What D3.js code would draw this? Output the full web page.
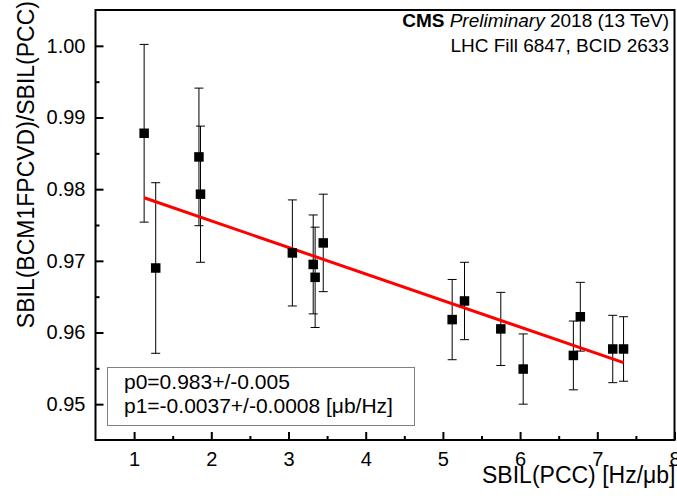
<!DOCTYPE html>
<html>
<head>
<meta charset="utf-8">
<script src="https://cdn.jsdelivr.net/npm/d3@7"></script>
<style>
  html, body { margin: 0; padding: 0; background: #fff; }
  svg { display: block; font-family: 'Liberation Sans', Arial, sans-serif; }
</style>
</head>
<body>
<svg id="chart" width="677" height="499"></svg>
<script>
/* SBIL ratio BCM1FPCVD / PCC vs SBIL(PCC), linear fit */
(function () {
  'use strict';

  // measured points: SBIL(PCC) [Hz/ub], ratio, ratio error
  const sbilPcc = [1.13, 1.28, 1.84, 1.86, 3.05, 3.32, 3.345, 3.45, 5.12, 5.28, 5.75, 6.04, 6.69, 6.78, 7.20, 7.34];
  const ratio   = [0.9878, 0.9690, 0.9845, 0.9793, 0.9711, 0.9695, 0.9677, 0.9725, 0.9618, 0.9644, 0.9605, 0.9549, 0.9568, 0.9622, 0.9577, 0.9577];
  const ratioErr = [0.0124, 0.0119, 0.0096, 0.0095, 0.0074, 0.0069, 0.0070, 0.0068, 0.0056, 0.0054, 0.0051, 0.0049, 0.0048, 0.0048, 0.0047, 0.0045];

  // fit line end points (p0 + p1*x over the data range)
  const fitX = [1.13, 7.34];
  const fitY = [0.9788, 0.9558];

  const xTicks = [1, 2, 3, 4, 5, 6, 7, 8];
  const xMinor = [1.5, 2.5, 3.5, 4.5, 5.5, 6.5, 7.5];
  const yTicks = [0.95, 0.96, 0.97, 0.98, 0.99, 1.00];
  const yMinor = [0.955, 0.965, 0.975, 0.985, 0.995];

  const headerLine2 = 'LHC Fill 6847, BCID 2633';
  const fitText = ['p0=0.983+/-0.005', 'p1=-0.0037+/-0.0008 [\u03bcb/Hz]'];

  const W = 677, H = 499;
  const margin = { top: 10, right: 2.5, bottom: 59, left: 95.5 };
  const svg = d3.select('#chart');

  const x = d3.scaleLinear().domain([0.5, 8]).range([margin.left, W - margin.right]);
  const y = d3.scaleLinear().domain([0.945, 1.005]).range([H - margin.bottom, margin.top]);

  const tickFont = '20px';

  // frame
  svg.append('rect')
    .attr('x', x(0.5)).attr('y', y(1.005))
    .attr('width', x(8) - x(0.5)).attr('height', y(0.945) - y(1.005))
    .attr('fill', 'none').attr('stroke', '#000').attr('stroke-width', 2);

  // bottom axis, ticks pointing inward
  svg.append('g').attr('transform', `translate(0,${y(0.945)})`)
    .call(d3.axisBottom(x).tickValues(xTicks).tickSize(-8).tickPadding(12).tickFormat(d3.format('d')));
  svg.append('g').attr('transform', `translate(0,${y(0.945)})`)
    .call(d3.axisBottom(x).tickValues(xMinor).tickSize(-4).tickFormat(''));

  svg.append('g').attr('transform', `translate(${x(0.5)},0)`)
    .call(d3.axisLeft(y).tickValues(yTicks).tickSize(-8).tickPadding(10).tickFormat(d3.format('.2f')));
  svg.append('g').attr('transform', `translate(${x(0.5)},0)`)
    .call(d3.axisLeft(y).tickValues(yMinor).tickSize(-4).tickFormat(''));

  svg.selectAll('.domain').remove();
  svg.selectAll('.tick line').attr('stroke', '#000').attr('stroke-width', 2);
  svg.selectAll('.tick text')
    .style('font-family', "'Liberation Sans', Arial, sans-serif")
    .style('font-size', tickFont).attr('fill', '#000');

  // axis titles
  svg.append('text')
    .attr('x', x(8) + 1).attr('y', 483)
    .attr('text-anchor', 'end')
    .style('font-size', '23px')
    .text('SBIL(PCC) [Hz/\u03bcb]');

  svg.append('text')
    .attr('transform', 'translate(34,1) rotate(-90)')
    .attr('text-anchor', 'end')
    .style('font-size', '23px')
    .text('SBIL(BCM1FPCVD)/SBIL(PCC)');

  // error bars
  const capW = 4.5;
  const bars = svg.append('g').attr('stroke', '#000').attr('stroke-width', 1);
  sbilPcc.forEach((xv, i) => {
    const lo = y(ratio[i] - ratioErr[i]), hi = y(ratio[i] + ratioErr[i]);
    bars.append('line').attr('x1', x(xv)).attr('x2', x(xv)).attr('y1', lo).attr('y2', hi);
    bars.append('line').attr('x1', x(xv) - capW).attr('x2', x(xv) + capW).attr('y1', lo).attr('y2', lo);
    bars.append('line').attr('x1', x(xv) - capW).attr('x2', x(xv) + capW).attr('y1', hi).attr('y2', hi);
  });

  // fit
  svg.append('path')
    .datum(fitX.map((v, i) => [v, fitY[i]]))
    .attr('d', d3.line().x((d) => x(d[0])).y((d) => y(d[1])))
    .attr('fill', 'none').attr('stroke', '#ff0000').attr('stroke-width', 3);

  // markers
  const sq = 9.5;
  svg.append('g').selectAll('rect')
    .data(sbilPcc).enter().append('rect')
    .attr('x', (d) => x(d) - sq / 2)
    .attr('y', (_, i) => y(ratio[i]) - sq / 2)
    .attr('width', sq).attr('height', sq)
    .attr('fill', '#000');

  // header
  const hdr = svg.append('text')
    .attr('x', 669).attr('y', 27)
    .attr('text-anchor', 'end')
    .style('font-size', '19px');
  hdr.append('tspan').style('font-weight', 'bold').text('CMS ');
  hdr.append('tspan').style('font-style', 'italic').text('Preliminary');
  hdr.append('tspan').text(' 2018 (13 TeV)');
  svg.append('text')
    .attr('x', 669).attr('y', 52)
    .attr('text-anchor', 'end')
    .style('font-size', '19px')
    .text(headerLine2);

  // fit result box
  svg.append('rect')
    .attr('x', 107.5).attr('y', 367.5).attr('width', 307).attr('height', 58)
    .attr('fill', '#fff').attr('stroke', '#808080').attr('stroke-width', 1);
  fitText.forEach((s, i) => {
    svg.append('text')
      .attr('x', 124).attr('y', 389 + i * 24)
      .style('font-size', '21px')
      .text(s);
  });
})();
</script>
</body>
</html>
